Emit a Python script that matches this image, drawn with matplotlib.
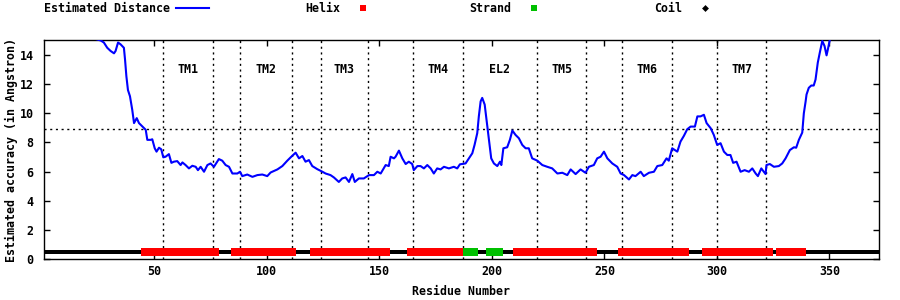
import matplotlib
matplotlib.use("Agg")
import matplotlib.pyplot as plt
from matplotlib.lines import Line2D
from matplotlib.font_manager import FontProperties

# ---------------- data ----------------
residue_pos = [1, 10, 20, 23, 24, 26.2, 27.6, 29.1, 30.6, 32.1, 32.8, 33.9, 35.0, 36.5, 37.0, 37.6, 38.3, 39.2,
               40.2, 41.0, 42.2, 43.2, 44.7, 46.2, 46.9, 48.4, 49.1, 50.2, 51.0, 52.1, 53.1, 54.0, 55.0, 56.5,
               57.6, 58.7, 60.2, 61.7, 62.5, 63.9, 65.4, 66.9, 68.4, 69.4, 70.6, 72.1, 73.6, 75.0, 76.5, 78.7,
               80.2, 81.7, 83.2, 84.7, 86.9, 88.1, 89.1, 91.3, 93.6, 95.8, 98.0, 100.2, 101.7, 104.7, 106.9,
               109.1, 110.6, 112.8, 114.3, 115.8, 117.2, 118.7, 120.2, 122.4, 124.7, 126.1, 128.3, 129.8, 132.0,
               133.5, 135.0, 136.5, 138.0, 139.1, 140.9, 143.1, 145.4, 147.6, 149.1, 150.6, 152.8, 154.2, 155.0,
               156.5, 157.2, 158.7, 160.2, 161.7, 163.1, 164.6, 165.3, 166.9, 168.3, 169.8, 171.3, 172.8, 174.2,
               175.7, 177.2, 178.7, 180.9, 183.1, 184.6, 185.8, 188.3, 189.8, 191.3, 192.3, 193.5, 194.2, 195.0,
               195.7, 196.8, 197.6, 198.7, 199.7, 200.9, 202.4, 203.6, 204.2, 205.1, 206.8, 208.0, 209.1, 210.5,
               212.0, 213.5, 215.0, 216.4, 217.9, 220.2, 222.4, 224.6, 226.8, 229.1, 231.3, 233.5, 235.0, 237.2,
               239.4, 241.6, 243.1, 245.3, 246.8, 248.3, 249.8, 251.3, 253.5, 255.7, 257.2, 258.7, 260.9, 262.4,
               263.8, 266.1, 267.5, 269.8, 272.0, 273.5, 275.7, 277.6, 278.6, 280.1, 282.4, 283.8, 285.3, 286.8,
               288.3, 290.2, 291.3, 292.7, 294.2, 295.4, 297.2, 298.6, 300.1, 301.6, 303.1, 304.6, 306.0, 307.2,
               308.7, 310.5, 312.3, 314.2, 315.7, 317.2, 318.2, 319.7, 321.6, 322.0, 323.5, 325.3, 327.5, 329.0,
               330.5, 332.4, 334.2, 335.2, 336.4, 337.9, 338.6, 339.4, 339.8, 340.8, 341.9, 343.0, 343.8, 344.8,
               345.7, 346.8, 347.8, 348.7, 349.3, 350.2, 352, 360, 371]
est_distance = [16.5, 16.5, 16.0, 15.5, 15.1, 15.0, 14.86, 14.5, 14.28, 14.12, 14.28, 14.86, 14.74, 14.5, 13.7,
                12.55, 11.6, 11.17, 10.25, 9.33, 9.67, 9.33, 9.1, 8.87, 8.18, 8.18, 8.22, 7.6, 7.37, 7.64, 7.53,
                6.98, 7.02, 7.2, 6.6, 6.68, 6.72, 6.45, 6.63, 6.45, 6.22, 6.4, 6.33, 6.1, 6.33, 5.99, 6.45, 6.56,
                6.33, 6.86, 6.75, 6.45, 6.33, 5.87, 5.87, 5.99, 5.69, 5.8, 5.64, 5.76, 5.8, 5.69, 5.94, 6.15,
                6.38, 6.75, 6.98, 7.3, 6.91, 7.07, 6.68, 6.79, 6.38, 6.17, 5.99, 5.87, 5.76, 5.6, 5.29, 5.53,
                5.6, 5.29, 5.83, 5.29, 5.53, 5.53, 5.76, 5.76, 5.99, 5.87, 6.45, 6.38, 7.02, 6.91, 7.02, 7.44,
                6.91, 6.52, 6.68, 6.52, 6.1, 6.38, 6.38, 6.22, 6.45, 6.22, 5.87, 6.22, 6.15, 6.33, 6.22, 6.33,
                6.22, 6.5, 6.56, 6.91, 7.26, 7.83, 8.64, 9.79, 10.82, 11.06, 10.6, 9.56, 8.18, 6.91, 6.56, 6.38,
                6.68, 6.45, 7.6, 7.67, 8.18, 8.82, 8.52, 8.29, 7.83, 7.6, 7.6, 6.91, 6.75, 6.45, 6.33, 6.22,
                5.87, 5.92, 5.76, 6.15, 5.83, 6.15, 5.92, 6.33, 6.45, 6.91, 7.02, 7.37, 6.91, 6.56, 6.33, 5.87,
                5.76, 5.46, 5.76, 5.69, 5.99, 5.69, 5.92, 5.99, 6.38, 6.45, 6.91, 6.75, 7.6, 7.37, 8.06, 8.45,
                8.91, 9.09, 9.09, 9.79, 9.79, 9.9, 9.33, 8.98, 8.52, 7.83, 7.95, 7.37, 7.14, 7.14, 6.6, 6.68,
                5.99, 6.1, 5.99, 6.22, 5.87, 5.69, 6.22, 5.83, 6.45, 6.52, 6.33, 6.38, 6.56, 6.91, 7.48, 7.67,
                7.64, 8.18, 8.68, 10.0, 10.82, 11.29, 11.75, 11.91, 11.91, 12.32, 13.48, 14.17, 14.97, 14.62,
                13.98, 14.4, 15.09, 16.0, 17.0, 18.0]

seq_length = 371
helix_segments = [(46, 77), (86, 111), (121, 153), (164, 186), (211, 245), (258, 286), (295, 323), (328, 338)]
strand_segments = [(189, 192), (199, 203)]

tm_boundaries = [54, 76, 88, 111, 124, 145, 165, 187, 220, 242, 258, 280, 300, 322]
region_labels = ["TM1", "TM2", "TM3", "TM4", "EL2", "TM5", "TM6", "TM7"]
region_label_x = [65, 99.5, 134.5, 176, 203.5, 231, 269, 311]
label_y = 13
threshold = 8.9
ss_y = 0.5

x_ticks = [50, 100, 150, 200, 250, 300, 350]
y_ticks = [0, 2, 4, 6, 8, 10, 12, 14]

# ---------------- secondary structure per residue ----------------
helix_res, strand_res, coil_res = [], [], []
for r in range(1, seq_length + 1):
    if any(a <= r <= b for a, b in helix_segments):
        helix_res.append(r)
    elif any(a <= r <= b for a, b in strand_segments):
        strand_res.append(r)
    else:
        coil_res.append(r)

# ---------------- figure ----------------
FONT = "DejaVu Sans Mono"
fp = FontProperties(family=FONT, weight="bold", size=8.4)
plt.rcParams["font.family"] = FONT
plt.rcParams["font.weight"] = "bold"
plt.rcParams["font.size"] = 8.4

fig = plt.figure(figsize=(9, 3), dpi=100)
ax = fig.add_axes([44 / 900, 1 - 259 / 300, 835 / 900, 218.5 / 300])

BLUE = "#0000ff"
RED = "#ff0000"
GREEN = "#00c000"

dash = (0, (1.5, 2.6))
for b in tm_boundaries:
    ax.axvline(b, color="black", lw=1, ls=dash, zorder=1)
ax.axhline(threshold, color="black", lw=1, ls=dash, zorder=1)

for t, xx in zip(region_labels, region_label_x):
    ax.text(xx, label_y, t, ha="center", va="center", fontproperties=fp, color="black")

ax.plot(coil_res, [ss_y] * len(coil_res), ls="none", marker="s", ms=2.8, color="black", mew=0, zorder=3)
ax.plot(helix_res, [ss_y] * len(helix_res), ls="none", marker="s", ms=5.2, color=RED, mew=0, zorder=4)
ax.plot(strand_res, [ss_y] * len(strand_res), ls="none", marker="s", ms=5.2, color=GREEN, mew=0, zorder=4)

ax.plot(residue_pos, est_distance, color=BLUE, lw=1.5, zorder=5)

ax.set_xlim(1, 372)
ax.set_ylim(0, 15)
ax.set_xticks(x_ticks)
ax.set_yticks(y_ticks)
ax.tick_params(direction="in", length=4, width=1, top=True, right=True, labelsize=8.4)
ax.tick_params(axis="y", pad=7.5)
ax.tick_params(axis="x", pad=4)
for lab in ax.get_xticklabels() + ax.get_yticklabels():
    lab.set_fontproperties(fp)
for sp in ax.spines.values():
    sp.set_linewidth(1)

ax.set_xlabel("Residue Number", fontproperties=fp)
ax.set_ylabel("Estimated accuracy (in Angstron)", fontproperties=fp)
ax.xaxis.set_label_coords(0.5, -0.118)
ax.yaxis.set_label_coords(-0.031, 0.5)

# legend entries (gnuplot-style key across the top)
entries = [
    (Line2D([], [], color=BLUE, lw=1.5), "Estimated Distance", 209),
    (Line2D([], [], ls="none", marker="s", ms=4.5, color=RED, mew=0), "Helix", 379),
    (Line2D([], [], ls="none", marker="s", ms=5, color=GREEN, mew=0), "Strand", 550),
    (Line2D([], [], ls="none", marker="D", ms=3.5, color="black", mew=0), "Coil", 721),
]
for h, lbl, xr in entries:
    fig.legend(handles=[h], labels=[lbl], loc="center right",
               bbox_to_anchor=(xr / 900, 1 - 9 / 300), bbox_transform=fig.transFigure,
               frameon=False, borderpad=0, borderaxespad=0, markerfirst=False,
               handlelength=2.8, handletextpad=0.5, numpoints=1, prop=fp)

fig.savefig("out.png", dpi=100)
